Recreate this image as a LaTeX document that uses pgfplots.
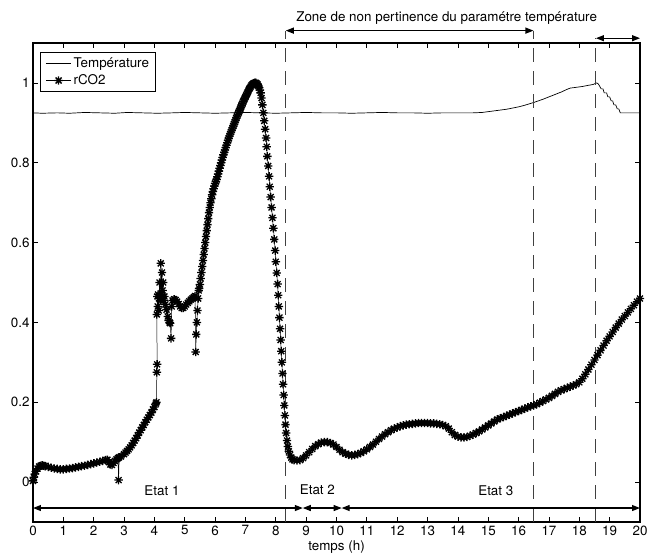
\documentclass[border=0pt]{standalone}
\usepackage{fontspec}
\setmainfont{TeX Gyre Heros}
\usepackage{pgfplots}
\pgfplotsset{compat=1.18}
\usetikzlibrary{arrows.meta}
\pgfdeclareplotmark{mstar}{%
 \pgfpathmoveto{\pgfqpoint{-\pgfplotmarksize}{0pt}}\pgfpathlineto{\pgfqpoint{\pgfplotmarksize}{0pt}}%
 \pgfpathmoveto{\pgfqpoint{0pt}{-\pgfplotmarksize}}\pgfpathlineto{\pgfqpoint{0pt}{\pgfplotmarksize}}%
 \pgfpathmoveto{\pgfqpoint{-.707\pgfplotmarksize}{-.707\pgfplotmarksize}}\pgfpathlineto{\pgfqpoint{.707\pgfplotmarksize}{.707\pgfplotmarksize}}%
 \pgfpathmoveto{\pgfqpoint{-.707\pgfplotmarksize}{.707\pgfplotmarksize}}\pgfpathlineto{\pgfqpoint{.707\pgfplotmarksize}{-.707\pgfplotmarksize}}%
 \pgfusepathqstroke}
\begin{document}
\begin{tikzpicture}
\useasboundingbox (-33bp,-36bp) rectangle (615bp,522bp);
\begin{axis}[
  at={(0,0)}, anchor=south west,
  scale only axis,
  width=607bp, height=479bp,
  xmin=0, xmax=20, ymin=-0.1, ymax=1.1,
  xtick={0,1,...,20},
  ytick={0,0.2,0.4,0.6,0.8,1},
  tick align=inside,
  major tick length=5bp,
  axis line style={line width=1.1pt},
  every tick/.style={black, line width=0.8pt},
  clip=false,
  font=\fontsize{13.4bp}{16bp}\selectfont,
  /pgf/number format/assume math mode=true,
  xlabel={temps (h)},
  xlabel style={yshift=1.5bp},
  legend style={at={(rel axis cs:0,1)}, anchor=north west, xshift=7bp, yshift=-9bp,
    draw=black, line width=1pt, inner xsep=5bp, inner ysep=3bp, row sep=2bp,
    font=\fontsize{13.4bp}{16bp}\selectfont},
  legend cell align=left,
  legend image code/.code={\draw[mark repeat=2,mark phase=2] plot coordinates {(0cm,0cm) (0.45cm,0cm) (0.9cm,0cm)};},
]
\addplot[black, line width=0.7pt, mark=none] coordinates {
(0,0.925) (0.3,0.924) (0.8,0.925) (1.2,0.924) (1.7,0.926) (2.2,0.925) (2.7,0.924) (3.1,0.926) (3.6,0.925) (4.1,0.924) (4.6,0.925) (5.0,0.926) (5.5,0.925) (6.0,0.924) (6.5,0.925) (7.0,0.926) (7.5,0.925) (8.0,0.924) (8.5,0.925) (9.0,0.926) (9.5,0.925) (10,0.925) (10.5,0.924) (11,0.925) (11.5,0.926) (12,0.925) (12.5,0.925) (13,0.924) (13.5,0.925) (14,0.925) (14.5,0.925) (14.8,0.926) (15.0,0.928) (15.2,0.930) (15.4,0.932) (15.6,0.934) (15.8,0.937) (16.0,0.940) (16.2,0.944) (16.5,0.951) (16.8,0.959) (17.0,0.965) (17.2,0.971) (17.4,0.977) (17.6,0.984) (17.7,0.987) (17.9,0.989) (18.1,0.991) (18.3,0.994) (18.45,0.996) (18.57,1.0) (18.62,0.998) (18.67,0.992) (18.72,0.985) (18.78,0.985) (18.82,0.975) (18.9,0.975) (18.94,0.965) (19.0,0.965) (19.05,0.955) (19.1,0.955) (19.14,0.945) (19.2,0.945) (19.25,0.935) (19.3,0.935) (19.35,0.925) (20,0.925)
};
\addlegendentry{Température}
\addplot[black, line width=0.5pt, mark=mstar, mark size=4.2bp, mark options={line width=1.3pt}] coordinates {
(0.00,0.003) (0.03,0.012) (0.06,0.02) (0.10,0.027) (0.15,0.034) (0.20,0.039) (0.25,0.041) (0.30,0.042) (0.35,0.041) (0.40,0.040) (0.50,0.038) (0.60,0.036) (0.70,0.034) (0.80,0.033) (0.90,0.032) (1.00,0.032) (1.10,0.033) (1.20,0.034) (1.30,0.035) (1.40,0.037) (1.50,0.038) (1.60,0.040) (1.70,0.041) (1.80,0.043) (1.90,0.045) (2.00,0.047) (2.10,0.049) (2.20,0.051) (2.30,0.053) (2.40,0.055) (2.45,0.056) (2.50,0.050) (2.55,0.044) (2.60,0.043) (2.65,0.048) (2.70,0.053) (2.75,0.057) (2.80,0.060) (2.82,0.005) (2.84,0.062) (2.90,0.064) (3.00,0.070) (3.05,0.074) (3.10,0.078) (3.15,0.082) (3.20,0.087) (3.25,0.092) (3.30,0.098) (3.35,0.104) (3.40,0.110) (3.45,0.117) (3.50,0.124) (3.55,0.130) (3.60,0.137) (3.65,0.143) (3.70,0.150) (3.75,0.156) (3.80,0.162) (3.85,0.168) (3.90,0.174) (3.95,0.182) (4.00,0.188) (4.05,0.197) (4.07,0.200)
(4.08,0.275) (4.09,0.295) (4.08,0.42) (4.10,0.465) (4.11,0.44) (4.12,0.47) (4.14,0.43) (4.15,0.46) (4.17,0.50) (4.19,0.455) (4.21,0.548) (4.23,0.47) (4.25,0.525) (4.27,0.48) (4.29,0.50) (4.31,0.455) (4.33,0.465) (4.36,0.445) (4.40,0.432) (4.44,0.415) (4.47,0.405) (4.50,0.400) (4.52,0.398) (4.55,0.360) (4.57,0.440) (4.60,0.455) (4.65,0.458) (4.70,0.456) (4.75,0.452) (4.80,0.446) (4.85,0.440) (4.90,0.436) (4.95,0.436) (5.00,0.440) (5.05,0.445) (5.10,0.449) (5.15,0.453) (5.20,0.457) (5.25,0.460) (5.30,0.463) (5.34,0.466) (5.36,0.326) (5.38,0.370) (5.40,0.400) (5.42,0.430) (5.44,0.460) (5.46,0.480)
(5.475,0.485) (5.5,0.495) (5.525,0.51) (5.55,0.525) (5.575,0.54) (5.6,0.555) (5.625,0.57) (5.65,0.585) (5.675,0.60) (5.7,0.615) (5.725,0.63) (5.75,0.645) (5.775,0.66) (5.8,0.675) (5.825,0.688) (5.85,0.70) (5.875,0.71) (5.9,0.72) (5.925,0.728) (5.95,0.735) (5.975,0.742) (6.0,0.748) (6.025,0.753) (6.05,0.758)
(6.075,0.765) (6.1,0.772) (6.125,0.779) (6.15,0.786) (6.175,0.793) (6.2,0.80) (6.225,0.807) (6.25,0.813) (6.275,0.82) (6.3,0.826) (6.325,0.832) (6.35,0.838) (6.375,0.844) (6.4,0.85) (6.425,0.856) (6.45,0.861) (6.475,0.867) (6.5,0.872) (6.525,0.877) (6.55,0.882) (6.575,0.887) (6.6,0.892) (6.625,0.897) (6.65,0.902) (6.675,0.907) (6.7,0.912) (6.725,0.917) (6.75,0.921) (6.775,0.926) (6.8,0.93) (6.825,0.935) (6.85,0.939) (6.875,0.944) (6.9,0.948) (6.925,0.953) (6.95,0.957) (6.975,0.961) (7.0,0.965) (7.025,0.969) (7.05,0.973) (7.075,0.977) (7.1,0.981) (7.125,0.985) (7.15,0.988) (7.175,0.991) (7.2,0.994) (7.225,0.996) (7.25,0.998) (7.275,0.999) (7.3,1.0) (7.325,1.0) (7.35,1.0) (7.375,0.998) (7.4,0.996) (7.425,0.992) (7.45,0.988) (7.475,0.982)
(7.5,0.975) (7.53,0.962) (7.56,0.945) (7.59,0.925) (7.62,0.905) (7.65,0.884) (7.68,0.862) (7.7,0.840) (7.72,0.816) (7.75,0.792) (7.78,0.766) (7.8,0.740) (7.83,0.714) (7.86,0.688) (7.89,0.662) (7.92,0.636) (7.95,0.608) (7.98,0.580) (8.0,0.552) (8.03,0.524) (8.06,0.496) (8.08,0.468) (8.1,0.440) (8.12,0.412) (8.14,0.384) (8.16,0.356) (8.18,0.328) (8.2,0.300) (8.22,0.272) (8.24,0.245) (8.26,0.218) (8.28,0.192) (8.30,0.167) (8.32,0.144) (8.34,0.123) (8.37,0.104) (8.40,0.089) (8.43,0.077) (8.47,0.068) (8.51,0.061) (8.55,0.057)
(8.6,0.055) (8.7,0.054) (8.8,0.055) (8.9,0.06) (9.0,0.067) (9.1,0.075) (9.2,0.083) (9.3,0.09) (9.4,0.095) (9.5,0.099) (9.6,0.1) (9.7,0.1) (9.8,0.098) (9.9,0.094) (10.0,0.088) (10.1,0.081) (10.2,0.075) (10.3,0.071) (10.4,0.068) (10.5,0.067) (10.6,0.068) (10.7,0.07) (10.8,0.073) (10.9,0.077) (11.0,0.082) (11.1,0.088) (11.2,0.094) (11.3,0.101) (11.4,0.108) (11.5,0.114) (11.6,0.12) (11.7,0.125) (11.8,0.13) (11.9,0.134) (12.0,0.137) (12.1,0.14) (12.2,0.142) (12.3,0.144) (12.4,0.145) (12.5,0.146) (12.6,0.147) (12.7,0.148) (12.8,0.148) (12.9,0.148) (13.0,0.148) (13.1,0.147) (13.2,0.147) (13.3,0.146) (13.4,0.145) (13.5,0.143) (13.6,0.14) (13.7,0.134) (13.8,0.125) (13.9,0.118) (14.0,0.114) (14.1,0.112) (14.2,0.112) (14.3,0.113) (14.4,0.116) (14.5,0.119) (14.6,0.123) (14.7,0.127) (14.8,0.132) (14.9,0.137) (15.0,0.142) (15.1,0.147) (15.2,0.152) (15.3,0.157) (15.4,0.16) (15.5,0.163) (15.6,0.166) (15.7,0.169) (15.8,0.172) (15.9,0.175) (16.0,0.178) (16.1,0.181) (16.2,0.184) (16.3,0.187) (16.4,0.19) (16.5,0.192) (16.6,0.195) (16.7,0.199) (16.8,0.203) (16.9,0.207) (17.0,0.211) (17.1,0.216) (17.2,0.221) (17.3,0.226) (17.4,0.23) (17.5,0.233) (17.6,0.236) (17.7,0.239) (17.8,0.242) (17.9,0.245) (18.0,0.25) (18.1,0.259) (18.2,0.27) (18.3,0.282) (18.4,0.294) (18.5,0.306) (18.6,0.318) (18.7,0.33) (18.8,0.342) (18.9,0.354) (19.0,0.365) (19.1,0.376) (19.2,0.387) (19.3,0.397) (19.4,0.407) (19.5,0.416) (19.6,0.425) (19.7,0.434) (19.8,0.443) (19.9,0.452) (20.0,0.46)
};
\addlegendentry{rCO2}
% annotations
\begin{scope}[line width=1pt, black!75, dash pattern=on 14bp off 9bp]
\draw (axis cs:8.33,-0.1) -- (axis cs:8.33,1.131);
\draw (axis cs:16.49,-0.1) -- (axis cs:16.49,1.131);
\draw (axis cs:18.55,-0.1) -- (axis cs:18.55,1.112);
\end{scope}
\begin{scope}[line width=1.1pt, black, {Triangle[length=8bp,width=6bp]}-{Triangle[length=8bp,width=6bp]}]
\draw (axis cs:8.33,1.131) -- (axis cs:16.49,1.131);
\draw (axis cs:18.55,1.112) -- (axis cs:20,1.112);
\draw (axis cs:0,-0.065) -- (axis cs:8.89,-0.065);
\draw (axis cs:8.89,-0.065) -- (axis cs:10.17,-0.065);
\draw (axis cs:10.17,-0.065) -- (axis cs:20,-0.065);
\end{scope}
\node at (axis cs:13.63,1.162) {Zone de non pertinence du paramétre température};
\node at (axis cs:4.25,-0.022) {Etat 1};
\node at (axis cs:9.37,-0.018) {Etat 2};
\node at (axis cs:15.25,-0.022) {Etat 3};
\end{axis}
\end{tikzpicture}
\end{document}
